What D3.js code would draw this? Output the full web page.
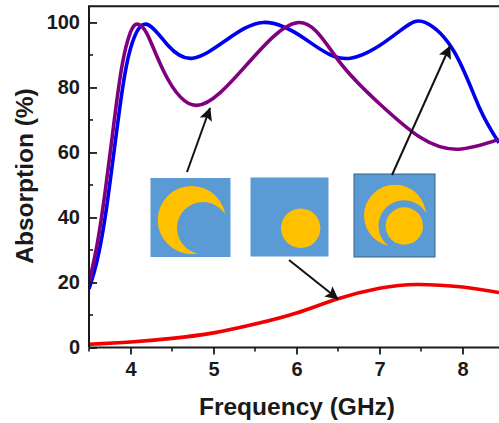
<!DOCTYPE html>
<html><head><meta charset="utf-8">
<script src="https://cdnjs.cloudflare.com/ajax/libs/d3/7.8.5/d3.min.js"></script>
<style>html,body{margin:0;padding:0;background:#fff}svg{display:block}text{font-family:"Liberation Sans",Arial,sans-serif;font-weight:bold;fill:#1a1a1a}</style>
</head><body><svg id="c" width="499" height="423"></svg>
<script>
const xTicks=[4,5,6,7,8];
const xMinor=[3.5,4.5,5.5,6.5,7.5];
const yTicks=[0,20,40,60,80,100];
const yMinor=[10,30,50,70,90];
const blueFreq=[3.5,3.6,3.7,3.8,3.9,4.0,4.18,4.45,4.75,5.15,5.6,6.1,6.65,7.25,7.55,7.9,8.2,8.44];
const blueAbs=[18,27,41,60,79,92,99.5,93,89,94.5,100,95,89,97.5,100,91,74,63];
const purpleFreq=[3.5,3.6,3.7,3.8,3.9,4.0,4.08,4.2,4.4,4.8,5.4,6.03,6.5,7,7.5,7.95,8.44];
const purpleAbs=[20,32,49,69,87,97,99.5,96.5,85,74.5,87,100,88.5,75,64.5,61,64];
const redFreq=[3.5,4,4.5,5,5.5,6,6.5,7,7.45,8,8.44];
const redAbs=[1,1.7,2.8,4.5,7.2,10.6,15,18.2,19.4,18.6,16.9];

const svg=d3.select("#c");
const x=d3.scaleLinear().domain([3.5,8.44]).range([89,499]);
const y=d3.scaleLinear().domain([0,105]).range([347.5,6.2]);
const ink="#1a1a1a";
svg.append("defs").append("clipPath").attr("id","plot").append("rect")
  .attr("x",x.range()[0]).attr("y",y.range()[1]).attr("width",410).attr("height",341.3);
svg.select("defs").append("marker").attr("id","ah").attr("viewBox","0 0 10 10").attr("refX",9.5).attr("refY",5)
  .attr("markerUnits","userSpaceOnUse").attr("markerWidth",15).attr("markerHeight",13).attr("orient","auto")
  .append("path").attr("d","M0,0L10,5L0,10L2,5Z").attr("fill","#111");

const line=d3.line().curve(d3.curveNatural).x(d=>x(d[0])).y(d=>y(d[1]));
const g=svg.append("g").attr("clip-path","url(#plot)");
[[blueFreq,blueAbs,"#0000f0"],[purpleFreq,purpleAbs,"#800080"],[redFreq,redAbs,"#f00000"]].forEach(([f,a,c])=>{
  g.append("path").attr("d",line(f.map((v,i)=>[v,a[i]]))).attr("fill","none").attr("stroke",c).attr("stroke-width",3.6);
});

// axes
const ax=d3.axisBottom(x).tickValues(xTicks).tickSize(7).tickPadding(2).tickFormat(d3.format("d"));
const gx=svg.append("g").attr("transform",`translate(0,${y(0)})`).call(ax);
const ay=d3.axisLeft(y).tickValues(yTicks).tickSize(-8).tickPadding(9).tickFormat(d3.format("d"));
const gy=svg.append("g").attr("transform",`translate(${x(3.5)},0)`).call(ay);
[gx,gy].forEach(s=>{s.select(".domain").remove();s.selectAll("line").attr("stroke",ink).attr("stroke-width",1.8);
  s.selectAll("text").attr("font-size",20).style("font-family",'"Liberation Sans",Arial,sans-serif').style("font-weight","bold");});
gx.selectAll("text").attr("dy","0.95em");
svg.selectAll(".mx").data(xMinor).join("line").attr("x1",d=>x(d)).attr("x2",d=>x(d)).attr("y1",y(0)).attr("y2",y(0)+4).attr("stroke",ink).attr("stroke-width",1.6);
svg.selectAll(".my").data(yMinor).join("line").attr("x1",x(3.5)).attr("x2",x(3.5)+4).attr("y1",d=>y(d)).attr("y2",d=>y(d)).attr("stroke",ink).attr("stroke-width",1.6);
svg.append("path").attr("d",`M${x(3.5)},${y(0)}V${y(105)}H499`).attr("fill","none").attr("stroke",ink).attr("stroke-width",2);
svg.append("line").attr("x1",x(3.5)).attr("x2",499).attr("y1",y(0)).attr("y2",y(0)).attr("stroke",ink).attr("stroke-width",2);

svg.append("text").attr("x",297).attr("y",415).attr("text-anchor","middle").attr("font-size",24.5).text("Frequency (GHz)");
svg.append("text").attr("transform","translate(33,176) rotate(-90)").attr("text-anchor","middle").attr("font-size",24.5).text("Absorption (%)");

// insets
const blue="#5b9bd5",gold="#ffc000";
const rect=(a,b,w,h,st)=>svg.append("rect").attr("x",a).attr("y",b).attr("width",w).attr("height",h).attr("fill",blue).attr("stroke",st||"none");
const circ=(a,b,r,f)=>svg.append("circle").attr("cx",a).attr("cy",b).attr("r",r).attr("fill",f);
rect(150.5,178,80,79);
circ(191.7,220,34,gold);circ(203,228,26,blue);
rect(250.5,177.5,78,79);
circ(300.7,228.3,19.7,gold);
rect(354,174,81,83,"#3c5f80");
circ(395,215.7,31,gold);circ(404,225.7,25.5,blue);circ(404.3,226,18.7,gold);

// arrows
const arrow=(a,b,c,d)=>svg.append("line").attr("x1",a).attr("y1",b).attr("x2",c).attr("y2",d).attr("stroke","#111").attr("stroke-width",2).attr("marker-end","url(#ah)");
arrow(187,172,210,108);
arrow(392,175,450,46);
arrow(289,260,338,299);
</script></body></html>
